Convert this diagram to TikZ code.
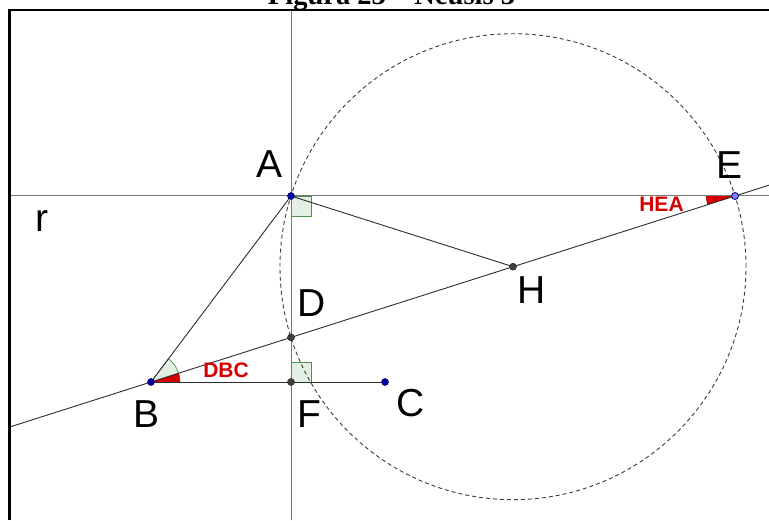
\documentclass[tikz,border=0pt]{standalone}
\usepackage{fontspec}
\setmainfont{Liberation Serif}
\newfontfamily\lsans{Liberation Sans}
\usetikzlibrary{calc}
\definecolor{axisgray}{RGB}{120,120,120}
\definecolor{seggray}{RGB}{45,45,45}
\definecolor{circgray}{RGB}{60,60,60}
\definecolor{ptblue}{RGB}{0,0,160}
\definecolor{ptlight}{RGB}{128,128,255}
\definecolor{ptgray}{RGB}{64,64,64}
\definecolor{angred}{RGB}{215,0,0}
\definecolor{anggreen}{RGB}{0,100,0}
\definecolor{anggreenfill}{RGB}{228,240,228}
\begin{document}
\begin{tikzpicture}[x=1pt,y=1pt,
  ptlabel/.style={font=\lsans\fontsize{39}{39}\selectfont, inner sep=0pt, anchor=center},
  anglabel/.style={font=\lsans\bfseries\fontsize{21}{21}\selectfont, text=angred, inner sep=0pt, anchor=center},
  axisline/.style={draw=axisgray, line width=1pt},
  segline/.style={draw=seggray, line width=0.9pt},
  circline/.style={draw=circgray, line width=0.9pt, dash pattern=on 4pt off 3pt},
  rightmark/.style={fill=anggreenfill, draw=anggreen!70!white, line width=0.7pt},
  greensector/.style={fill=anggreenfill, draw=anggreen!70!white, line width=0.7pt},
  redsector/.style={fill=angred},
  bluedot/.style={circle, fill=ptblue, draw=ptblue!60!black, line width=0.5pt, inner sep=0pt, minimum size=7pt},
  lightdot/.style={circle, fill=ptlight, draw=ptblue!70!black, line width=0.8pt, inner sep=0pt, minimum size=7pt},
  graydot/.style={circle, fill=ptgray, draw=ptgray!60!black, line width=0.5pt, inner sep=0pt, minimum size=7pt}
]
\useasboundingbox (0,0) rectangle (769,520);
\clip (0,0) rectangle (769,520);

% points
\coordinate (A) at (291,324);
\coordinate (B) at (151,138);
\coordinate (C) at (385,138);
\coordinate (E) at (735,324);
\coordinate (D) at (291,182.59);
\coordinate (F) at (291,138);
\coordinate (H) at ($(D)!0.5!(E)$);
\coordinate (rL) at (9.5,324);
\coordinate (rR) at (769,324);
\coordinate (vT) at (291,509.7);
\coordinate (vB) at (291,0);
\coordinate (lL) at (9.5,92.93);
\coordinate (lR) at (769,334.83);
\coordinate (fBL) at (9.5,0);
\coordinate (fTL) at (9.5,509.7);
\coordinate (fTR) at (769,509.7);

% title (cut by the top of the page)
\node[font=\bfseries\fontsize{28.5}{30}\selectfont, anchor=base, inner sep=0pt] (title) at (391.5,515) {Figura 23 -- Neusis 3};

% angle marks
\path[rightmark] (A) rectangle ++(20,-20);
\path[rightmark] (F) rectangle ++(20,20);
\path[greensector] (B) -- ++(0:29) arc[start angle=0, end angle=53.03, radius=29] -- cycle;
\path[redsector] (B) -- ++(0:29) arc[start angle=0, end angle=17.67, radius=29] -- cycle;
\path[redsector] (E) -- ++(180:29) arc[start angle=180, end angle=197.67, radius=29] -- cycle;

% lines
\draw[axisline] (rL) -- (rR);
\draw[axisline] (vB) -- (vT);
\draw[segline] (lL) -- (lR);
\draw[segline] (A) -- (B);
\draw[segline] (A) -- (H);
\draw[segline] (B) -- (C);
\draw[circline] (H) circle (233);

% frame
\draw[line width=2.4pt, black] (fBL) -- (fTL) -- (fTR);

% dots
\node[bluedot] (nA) at (A) {};
\node[bluedot] (nB) at (B) {};
\node[bluedot] (nC) at (C) {};
\node[lightdot] (nE) at (E) {};
\node[graydot] (nD) at (D) {};
\node[graydot] (nF) at (F) {};
\node[graydot] (nH) at (H) {};

% labels
\node[ptlabel] (lA) at (270,356) {A};
\node[ptlabel] (lB) at (147,106) {B};
\node[ptlabel] (lC) at (411,117) {C};
\node[ptlabel] (lD) at (312,217) {D};
\node[ptlabel] (lE) at (729,355) {E};
\node[ptlabel] (lF) at (309,106) {F};
\node[ptlabel] (lH) at (532,230) {H};
\node[ptlabel] (lr) at (42,299) {r};
\node[anglabel] (lDBC) at (226,150) {DBC};
\node[anglabel] (lHEA) at (661.5,315.5) {HEA};
\end{tikzpicture}
\end{document}
